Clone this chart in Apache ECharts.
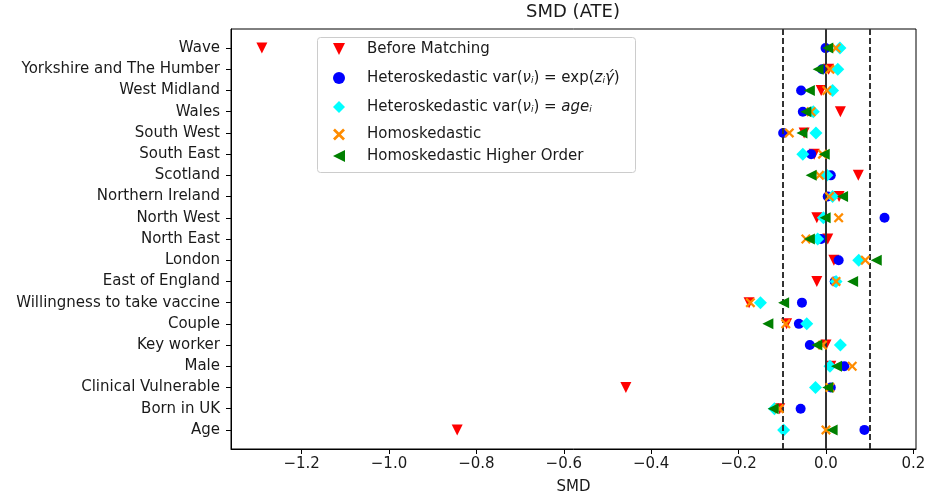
<!DOCTYPE html>
<html>
<head>
<meta charset="utf-8">
<script src="https://cdn.jsdelivr.net/npm/echarts@6.0.0/dist/echarts.min.js"></script>
<style>
  html, body { margin: 0; padding: 0; background: #fff; }
  #chart { width: 925px; height: 497px; }
</style>
</head>
<body>
<div id="chart"></div>
<script>
// covariates, top to bottom
const categories = [
  'Wave', 'Yorkshire and The Humber', 'West Midland', 'Wales', 'South West',
  'South East', 'Scotland', 'Northern Ireland', 'North West', 'North East',
  'London', 'East of England', 'Willingness to take vaccine', 'Couple',
  'Key worker', 'Male', 'Clinical Vulnerable', 'Born in UK', 'Age'
]

const beforeMatching = [-1.291, 0.006, -0.011, 0.033, -0.050, -0.027, 0.074, 0.030, -0.021, 0.004,
  0.018, -0.021, -0.176, -0.090, 0.000, 0.011, -0.458, -0.106, -0.844]
const hetExp = [-0.001, -0.009, -0.057, -0.053, -0.098, -0.034, 0.011, 0.004, 0.134, -0.011,
  0.029, 0.020, -0.055, -0.062, -0.037, 0.042, 0.011, -0.058, 0.088]
const hetAge = [0.032, 0.027, 0.015, -0.029, -0.023, -0.053, 0.002, 0.015, -0.006, -0.019,
  0.075, 0.023, -0.150, -0.044, 0.033, 0.009, -0.024, -0.118, -0.097]
const homo = [0.023, 0.009, 0.002, -0.034, -0.084, -0.008, -0.015, 0.008, 0.029, -0.046,
  0.090, 0.023, -0.173, -0.092, -0.008, 0.060, 0.009, -0.107, 0.000]
const homoHigher = [0.004, -0.018, -0.038, -0.046, -0.055, -0.004, -0.034, 0.038, -0.002, -0.038,
  0.115, 0.061, -0.097, -0.133, -0.021, 0.024, 0.004, -0.121, 0.014]

const xTicks = [-1.2, -1.0, -0.8, -0.6, -0.4, -0.2, 0.0, 0.2]
const refLines = [0, -0.1, 0.1]

const toPoints = (vals) => vals.map((v, i) => [v, i])
const crossPath = 'path://M0,1.6 L1.6,0 L5,3.4 L8.4,0 L10,1.6 L6.6,5 L10,8.4 L8.4,10 L5,6.6 L1.6,10 L0,8.4 L3.4,5 Z'
const triDown = 'path://M0,0 L10,0 L5,10 Z'
const triLeft = 'path://M10,0 L10,10 L0,5 Z'

const seriesDefs = [
  { name: 'Before Matching', data: beforeMatching, color: '#ff0000', symbol: triDown, size: 11 },
  { name: 'HetExp', data: hetExp, color: '#0000ff', symbol: 'circle', size: 10 },
  { name: 'HetAge', data: hetAge, color: '#00ffff', symbol: 'diamond', size: 13 },
  { name: 'Homoskedastic', data: homo, color: '#ff8c00', symbol: crossPath, size: 10 },
  { name: 'Homoskedastic Higher Order', data: homoHigher, color: '#008000', symbol: triLeft, size: 11 }
]

const legendRows = [50.5, 79.5, 108.5, 136, 157.5]
const legendLabel = {
  HetExp: '{t|Heteroskedastic var(}{m|ν}{s|i}{t|) = exp(}{m|z}{s|i}{m|γ\u0301}{t|)}',
  HetAge: '{t|Heteroskedastic var(}{m|ν}{s|i}{t|) = }{m|age}{s|i}'
}

const textColor = '#1a1a1a'
const fontFamily = 'DejaVu Sans'

const chart = echarts.init(document.getElementById('chart'), null, { renderer: 'canvas' })

const option = {
  animation: false,
  backgroundColor: '#ffffff',
  textStyle: { fontFamily: fontFamily, color: textColor },
  title: {
    text: 'SMD (ATE)',
    left: 573,
    textAlign: 'center',
    top: 3,
    padding: 0,
    textStyle: { fontFamily: fontFamily, fontSize: 18, fontWeight: 'normal', color: textColor }
  },
  grid: {
    left: 231,
    right: 9,
    top: 29,
    bottom: 48,
    show: true,
    borderColor: '#000',
    borderWidth: 1,
    containLabel: false,
    outerBoundsMode: 'none'
  },
  xAxis: {
    type: 'value',
    min: -1.3616,
    max: 0.206,
    name: 'SMD',
    nameLocation: 'middle',
    nameGap: 31,
    nameTextStyle: { fontFamily: fontFamily, fontSize: 15, color: textColor },
    axisLine: { show: true, onZero: false, lineStyle: { color: '#000', width: 1 } },
    axisTick: { show: true, length: 5, lineStyle: { color: '#000' }, customValues: xTicks },
    axisLabel: {
      customValues: xTicks,
      fontFamily: fontFamily,
      fontSize: 15,
      color: textColor,
      margin: 8,
      formatter: (v) => (v < -1e-9 ? '\u2212' : '') + Math.abs(v).toFixed(1)
    },
    splitLine: { show: false }
  },
  yAxis: {
    type: 'value',
    inverse: true,
    min: -0.9,
    max: 18.9,
    axisLine: { show: true, onZero: false, lineStyle: { color: '#000', width: 1 } },
    axisTick: { show: true, length: 5, lineStyle: { color: '#000' }, customValues: categories.map((c, i) => i) },
    axisLabel: {
      customValues: categories.map((c, i) => i),
      fontFamily: fontFamily,
      fontSize: 15,
      color: textColor,
      margin: 11,
      formatter: (v) => categories[Math.round(v)] || ''
    },
    splitLine: { show: false }
  },
  graphic: [
    {
      type: 'rect',
      z: 50,
      shape: { x: 317.5, y: 37.5, width: 318, height: 135, r: 3 },
      style: { fill: 'rgba(255,255,255,0.8)', stroke: '#cccccc', lineWidth: 1 }
    }
  ],
  legend: seriesDefs.map((s, k) => ({
    data: [s.name],
    left: 333,
    top: legendRows[k] - 9,
    padding: 0,
    z: 60,
    itemWidth: 12,
    itemHeight: 12,
    selectedMode: false,
    formatter: (name) => legendLabel[name] || name,
    textStyle: {
      fontFamily: fontFamily,
      fontSize: 15,
      color: textColor,
      padding: [0, 0, 0, 17],
      rich: {
        t: { fontFamily: fontFamily, fontSize: 15, color: textColor },
        m: { fontFamily: fontFamily, fontSize: 15, fontStyle: 'italic', color: textColor },
        s: { fontFamily: fontFamily, fontSize: 9, fontStyle: 'italic', color: textColor, verticalAlign: 'bottom', lineHeight: 10 }
      }
    }
  })),
  series: [
    {
      type: 'scatter',
      name: 'refLines',
      data: [],
      z: 1,
      markLine: {
        silent: true,
        symbol: ['none', 'none'],
        label: { show: false },
        lineStyle: { color: '#333333', width: 2 },
        data: refLines.map((x) => ({
          xAxis: x,
          lineStyle: { type: x === 0 ? 'solid' : [6, 3], color: '#333333', width: 2 }
        }))
      }
    }
  ].concat(seriesDefs.map((s, k) => ({
    type: 'scatter',
    name: s.name,
    data: toPoints(s.data),
    symbol: s.symbol,
    symbolSize: s.size,
    z: 2 + k,
    itemStyle: { color: s.color, opacity: 1 }
  })))
}

chart.setOption(option)
</script>
</body>
</html>
